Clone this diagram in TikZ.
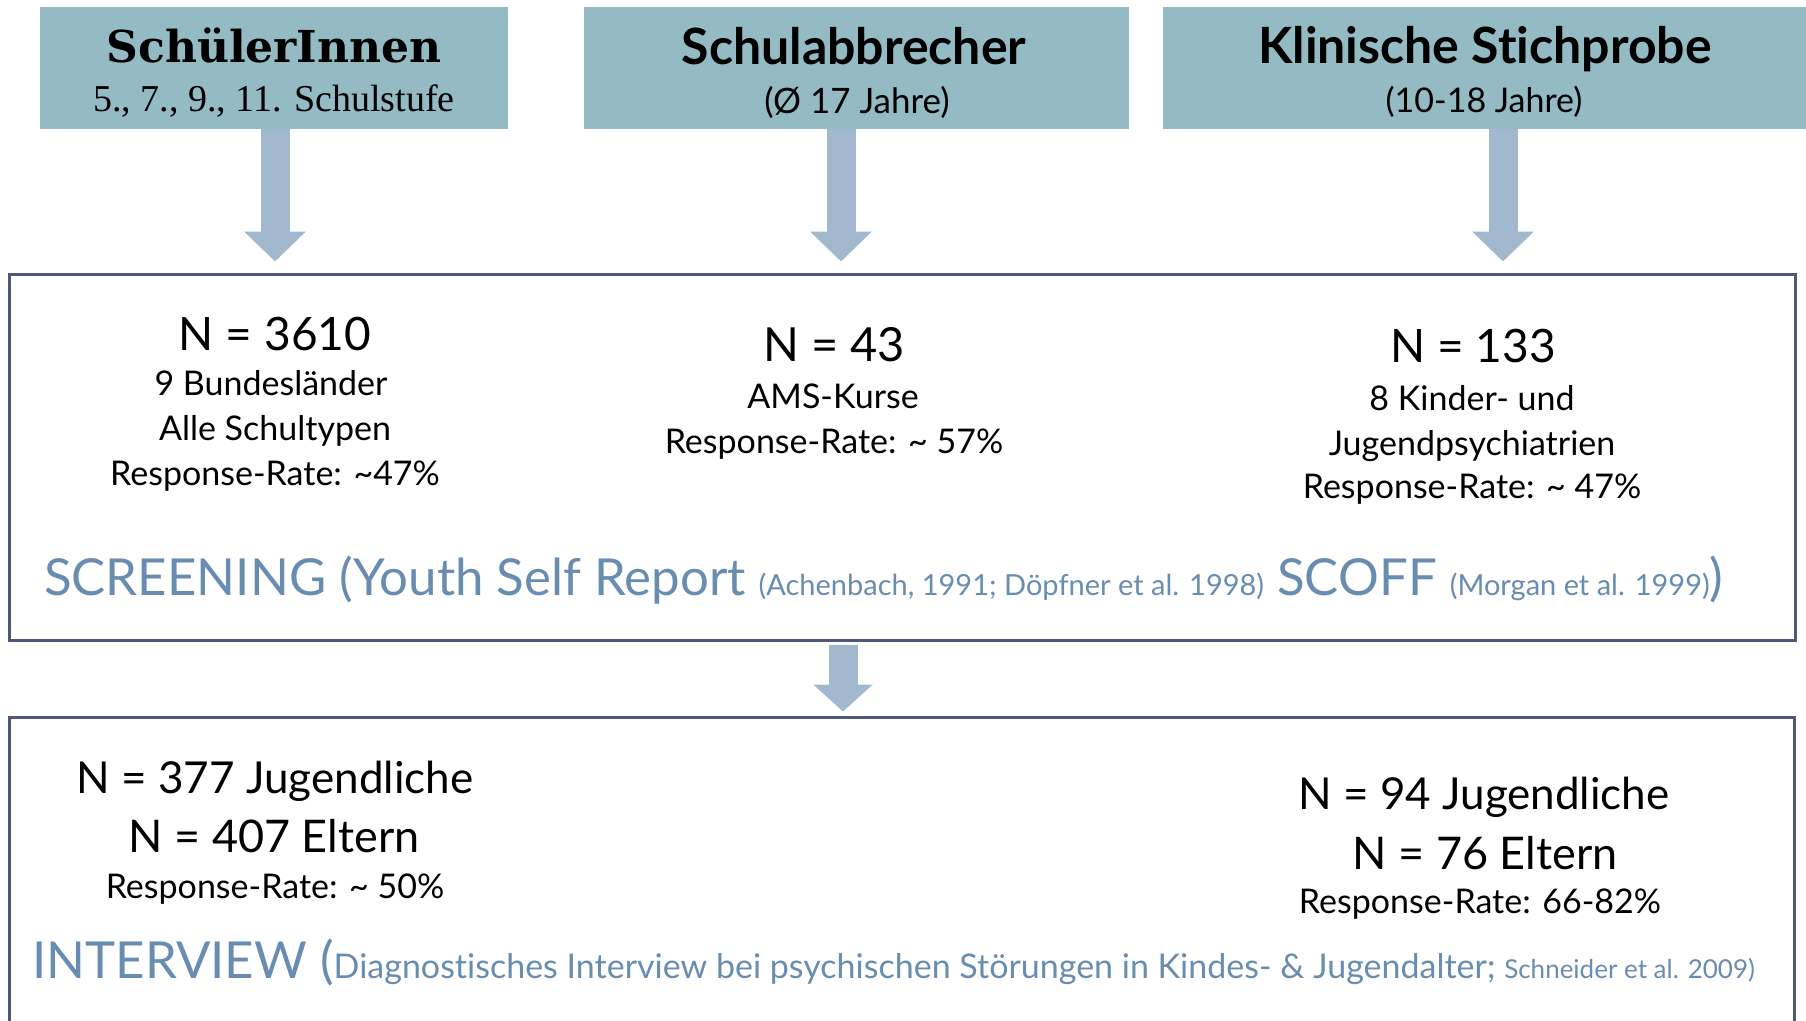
\documentclass[tikz,border=0pt]{standalone}
\usepackage{fontspec}
\setmainfont{Lato}[Ligatures=CommonOff]
\newfontfamily\hdrserif{DejaVu Serif}
\newfontfamily\hdrsub{Liberation Serif}
\usetikzlibrary{arrows.meta}
\definecolor{hdrfill}{RGB}{148,186,195}
\definecolor{arrowblue}{RGB}{161,184,206}
\definecolor{framegray}{RGB}{80,88,120}
\definecolor{textblue}{RGB}{104,141,176}
\newcommand{\fsz}[1]{\fontsize{#1}{#1}\selectfont}

\begin{document}
\begin{tikzpicture}[x=1pt,y=-1pt,
  hdrbox/.style={fill=hdrfill,draw=none,inner sep=0pt},
  framebox/.style={draw=framegray,line width=3pt,inner sep=0pt},
  txt/.style={anchor=base,inner sep=0pt},
  blockarrow/.style={draw=arrowblue,line width=29pt,-{Triangle[width=60pt,length=30pt]}}]
\useasboundingbox (0,0) rectangle (1806,1020);
\clip (0,0) rectangle (1806,1020);

\node[hdrbox,minimum width=468pt,minimum height=122pt] (hdr1) at (274,68) {};
\node[hdrbox,minimum width=545pt,minimum height=122pt] (hdr2) at (856.5,68) {};
\node[hdrbox,minimum width=643pt,minimum height=122pt] (hdr3) at (1484.5,68) {};
\node[txt,font=\hdrserif\bfseries\fsz{44}] (hdr1a) at (274,62) {SchülerInnen};
\node[txt,font=\hdrsub\fsz{38}] (hdr1b) at (274,111) {5., 7., 9., 11. Schulstufe};
\node[txt,font=\bfseries\fsz{50}] (hdr2a) at (854,64) {Schulabbrecher};
\node[txt,font=\fsz{35}] (hdr2b) at (857,113) {(Ø 17 Jahre)};
\node[txt,font=\bfseries\fsz{50}] (hdr3a) at (1485,63) {Klinische Stichprobe};
\node[txt,font=\fsz{34}] (hdr3b) at (1484,112) {(10-18 Jahre)};

\node[framebox,minimum width=1786pt,minimum height=366pt] (screen) at (902,457) {};
\node[framebox,minimum width=1785pt,minimum height=323pt] (interview) at (901.5,878.5) {};

\draw[blockarrow,shorten >=11pt] ([xshift=1pt]hdr1.south) -- ([xshift=1pt]hdr1.south |- screen.north);
\draw[blockarrow,shorten >=11pt] ([xshift=-15.5pt]hdr2.south) -- ([xshift=-15.5pt]hdr2.south |- screen.north);
\draw[blockarrow,shorten >=11pt] ([xshift=18.5pt]hdr3.south) -- ([xshift=18.5pt]hdr3.south |- screen.north);
\draw[blockarrow,-{Triangle[width=58pt,length=27pt]},shorten <=3pt,shorten >=4pt] ([xshift=-59pt]screen.south) -- ([xshift=-59pt]screen.south |- interview.north);

\node[txt,font=\fsz{46}] (s1n) at (275,350) {N = 3610};
\node[txt,font=\fsz{34}] (s1a) at (271,395) {9 Bundesländer};
\node[txt,font=\fsz{34}] (s1b) at (275,440) {Alle Schultypen};
\node[txt,font=\fsz{34}] (s1c) at (275,485) {Response-Rate: \textasciitilde47\%};
\node[txt,font=\fsz{47}] (s2n) at (834,361) {N = 43};
\node[txt,font=\fsz{34}] (s2a) at (833,408) {AMS-Kurse};
\node[txt,font=\fsz{34}] (s2b) at (834,453) {Response-Rate: \textasciitilde{} 57\%};
\node[txt,font=\fsz{46}] (s3n) at (1473,362) {N = 133};
\node[txt,font=\fsz{34}] (s3a) at (1472,410) {8 Kinder- und};
\node[txt,font=\fsz{34}] (s3b) at (1472,455) {Jugendpsychiatrien};
\node[txt,font=\fsz{34}] (s3c) at (1472,498) {Response-Rate: \textasciitilde{} 47\%};
\node[txt,anchor=base west,text=textblue] (screenline) at (44,595)
  {\fsz{51}SCREENING (Youth Self Report {\fsz{29}(Achenbach, 1991; Döpfner et al. 1998)} SCOFF {\fsz{29}(Morgan et al. 1999)})};

\node[txt,font=\fsz{44}] (i1n) at (275,793) {N = 377 Jugendliche};
\node[txt,font=\fsz{45}] (i1e) at (274,852) {N = 407 Eltern};
\node[txt,font=\fsz{34}] (i1r) at (275,898) {Response-Rate: \textasciitilde{} 50\%};
\node[txt,font=\fsz{44}] (i2n) at (1484,809) {N = 94 Jugendliche};
\node[txt,font=\fsz{45}] (i2e) at (1485,869) {N = 76 Eltern};
\node[txt,font=\fsz{34}] (i2r) at (1480,913) {Response-Rate: 66-82\%};
\node[txt,anchor=base west,text=textblue] (interviewline) at (32,978)
  {\fsz{51}INTERVIEW ({\fsz{34}Diagnostisches Interview bei psychischen Störungen in Kindes- \& Jugendalter; {\fsz{26}Schneider et al. 2009)}}};
\end{tikzpicture}
\end{document}
